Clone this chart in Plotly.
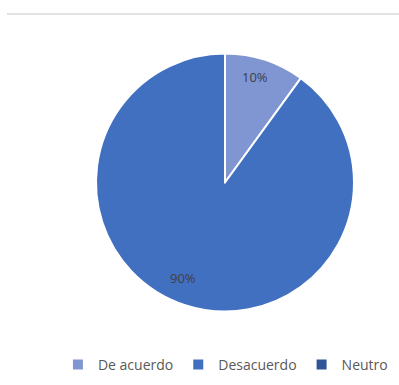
import math
import plotly.graph_objects as go

categories = ["De acuerdo", "Desacuerdo", "Neutro"]
values = [10, 90, 0]
colors = ["#7F96D3", "#4270C0", "#2F5597"]

W, H = 399, 385
cx, cy, r = 225, 182.5, 129

fig = go.Figure()
fig.add_trace(go.Pie(
    labels=categories,
    values=values,
    sort=False,
    direction="clockwise",
    rotation=0,
    marker=dict(colors=colors, line=dict(color="white", width=2)),
    textinfo="none",
    hoverinfo="label+percent",
    domain=dict(x=[(cx - r) / W, (cx + r) / W], y=[(H - cy - r) / H, (H - cy + r) / H]),
    showlegend=True,
))

# percentage labels placed along each slice's mid-angle
total = sum(values)
start = 0.0
radii = [0.85, 0.81]
offsets = [-2, 6]
for i, v in enumerate(values):
    if v <= 0:
        continue
    frac = v / total
    mid = (start + frac / 2) * 360 + (offsets[i] if i < len(offsets) else 0)
    start += frac
    k = radii[i] if i < len(radii) else 0.8
    px = cx + k * r * math.sin(math.radians(mid))
    py = cy - k * r * math.cos(math.radians(mid))
    fig.add_annotation(
        x=px / W, y=1 - py / H, xref="paper", yref="paper",
        xanchor="center", yanchor="middle",
        text=f"{round(frac * 100)}%", showarrow=False,
        font=dict(family="Open Sans, Calibri, sans-serif", size=13, color="#404040"),
    )

fig.add_shape(type="line", xref="paper", yref="paper",
              x0=7 / W, x1=1, y0=1 - 14 / H, y1=1 - 14 / H,
              line=dict(color="#D9D9D9", width=1.5))

fig.update_layout(
    width=W, height=H,
    margin=dict(l=0, r=0, t=0, b=0),
    paper_bgcolor="white",
    plot_bgcolor="white",
    legend=dict(orientation="h", x=0.565, xanchor="center", y=1 - 365 / H, yanchor="middle",
                font=dict(family="Open Sans, Calibri, sans-serif", size=14, color="#595959"),
                itemwidth=30, tracegroupgap=0),
)

fig.write_html("out.html")
